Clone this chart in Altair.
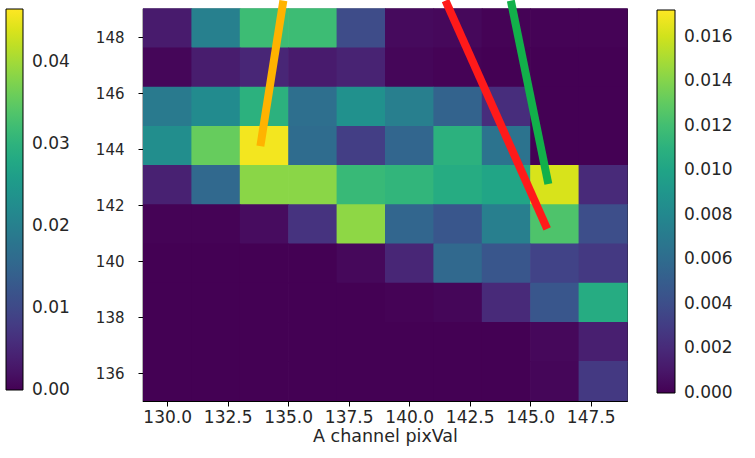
import altair as alt
import pandas as pd

# --- data -----------------------------------------------------------------
x_bin_starts = [129, 131, 133, 135, 137, 139, 141, 143, 145, 147]
x_bin_width = 2
# rows listed top to bottom
y_bin_starts = [147.6, 146.2, 144.8, 143.4, 142.0, 140.6, 139.2, 137.8, 136.4, 135.0]
y_bin_height = 1.4
# values in units of 1e-3, rows top -> bottom
values_e3 = [
    [1.2, 7.4, 11.8, 11.8, 3.9, 0.4, 0.3, 0.1, 0.1, 0.1],
    [0.2, 1.3, 1.8, 1.2, 1.6, 0.2, 0.1, 0.0, 0.0, 0.0],
    [7.0, 8.2, 11.0, 6.2, 8.6, 7.3, 5.4, 2.2, 0.0, 0.0],
    [8.4, 13.2, 16.9, 6.0, 3.1, 5.6, 11.0, 6.5, 0.0, 0.0],
    [1.5, 5.8, 14.2, 14.2, 11.6, 11.3, 10.6, 10.1, 16.2, 2.0],
    [0.1, 0.1, 0.5, 2.5, 14.3, 5.6, 4.6, 7.3, 12.4, 4.0],
    [0.0, 0.0, 0.0, 0.0, 0.3, 1.8, 5.8, 4.6, 3.4, 2.8],
    [0.0, 0.0, 0.0, 0.0, 0.0, 0.1, 0.2, 2.0, 4.6, 10.6],
    [0.0, 0.0, 0.0, 0.0, 0.0, 0.0, 0.0, 0.0, 0.3, 1.4],
    [0.0, 0.0, 0.0, 0.0, 0.0, 0.0, 0.0, 0.0, 0.2, 2.8],
]

x_ticks = [130.0, 132.5, 135.0, 137.5, 140.0, 142.5, 145.0, 147.5]
y_ticks = [136, 138, 140, 142, 144, 146, 148]

main_cbar_min = -0.000002
main_cbar_max = 0.0172
main_cbar_ticks = [0.0, 0.002, 0.004, 0.006, 0.008, 0.010, 0.012, 0.014, 0.016]
left_cbar_min = -0.000005
left_cbar_max = 0.0465
left_cbar_ticks = [0.0, 0.01, 0.02, 0.03, 0.04]

# annotation lines (data coordinates): name, start x, start y, end x, end y
line_names = ["orange", "red", "green"]
line_colors = ["#FFB300", "#FF1A1A", "#12B04A"]
line_x_start = [134.8, 141.5, 144.2]
line_y_start = [149.3, 149.3, 149.3]
line_x_end = [133.85, 145.7, 145.75]
line_y_end = [144.1, 141.15, 142.75]

# --- tables ---------------------------------------------------------------
cells = []
for r, y0 in enumerate(y_bin_starts):
    for c, x0 in enumerate(x_bin_starts):
        cells.append({
            "x0": x0, "x1": x0 + x_bin_width,
            "y0": y0, "y1": y0 + y_bin_height,
            "v": values_e3[r][c] / 1000.0,
        })
cells = pd.DataFrame(cells)

lines = []
for i, n in enumerate(line_names):
    lines.append({"name": n, "o": 0, "x": line_x_start[i], "y": line_y_start[i]})
    lines.append({"name": n, "o": 1, "x": line_x_end[i], "y": line_y_end[i]})
lines = pd.DataFrame(lines)

left_df = pd.DataFrame({"v": left_cbar_ticks})

FONT = "DejaVu Sans"
TXT = "#262626"

xscale = alt.Scale(domain=[129, 149], nice=False, zero=False)
yscale = alt.Scale(domain=[135, 149], nice=False, zero=False)

heat = alt.Chart(cells).mark_rect(strokeWidth=0, x2Offset=0.7, y2Offset=-0.7).encode(
    x=alt.X("x0:Q", scale=xscale,
            axis=alt.Axis(values=x_ticks, format=".1f", title="A channel pixVal",
                          labelFontSize=17, titleFontSize=17.5, titleFontWeight="normal",
                          labelFont=FONT, titleFont=FONT, labelColor=TXT, titleColor=TXT,
                          tickSize=5, tickColor="black", domain=False, grid=False,
                          labelPadding=3, titlePadding=2)),
    x2="x1:Q",
    y=alt.Y("y0:Q", scale=yscale,
            axis=alt.Axis(values=y_ticks, format="d", title=None,
                          labelFontSize=15, labelFont=FONT, labelColor=TXT,
                          tickSize=5, tickColor="black", domain=False, grid=False,
                          labelPadding=14)),
    y2="y1:Q",
    color=alt.Color("v:Q",
                    scale=alt.Scale(scheme="viridis", domain=[main_cbar_min, main_cbar_max]),
                    legend=alt.Legend(orient="none", legendX=514, legendY=1,
                                      direction="vertical", title=None,
                                      gradientLength=383, gradientThickness=18,
                                      gradientStrokeColor="black", gradientStrokeWidth=1,
                                      values=main_cbar_ticks, format=".3f",
                                      labelFontSize=17, labelFont=FONT, labelColor=TXT,
                                      labelOffset=9, labelOverlap=False,
                                      labelBaseline="middle", padding=0)),
)

left_bar = alt.Chart(left_df).mark_point(opacity=0, size=0).encode(
    x=alt.value(0), y=alt.value(0),
    color=alt.Color("v:Q",
                    scale=alt.Scale(scheme="viridis", domain=[left_cbar_min, left_cbar_max]),
                    legend=alt.Legend(orient="none", legendX=-137, legendY=0,
                                      direction="vertical", title=None,
                                      gradientLength=381, gradientThickness=17,
                                      gradientStrokeColor="black", gradientStrokeWidth=1,
                                      values=left_cbar_ticks, format=".2f",
                                      labelFontSize=17, labelFont=FONT, labelColor=TXT,
                                      labelOffset=9, labelOverlap=False,
                                      labelBaseline="middle", padding=0)),
)

annot = alt.Chart(lines).mark_line(strokeWidth=8, clip=False, strokeCap="butt").encode(
    x=alt.X("x:Q", scale=xscale),
    y=alt.Y("y:Q", scale=yscale),
    order="o:Q",
    color=alt.Color("name:N", scale=alt.Scale(domain=line_names, range=line_colors),
                    legend=None),
)

chart = alt.layer(heat, annot, left_bar).resolve_scale(
    color="independent"
).properties(
    width=484, height=392,
    autosize=alt.AutoSizeParams(type="none"),
    padding={"left": 143, "top": 9, "right": 128, "bottom": 57},
    background="white",
).configure_view(stroke="black", strokeWidth=1.2)

chart.save("out.html", embed_options={"renderer": "svg", "actions": False})
